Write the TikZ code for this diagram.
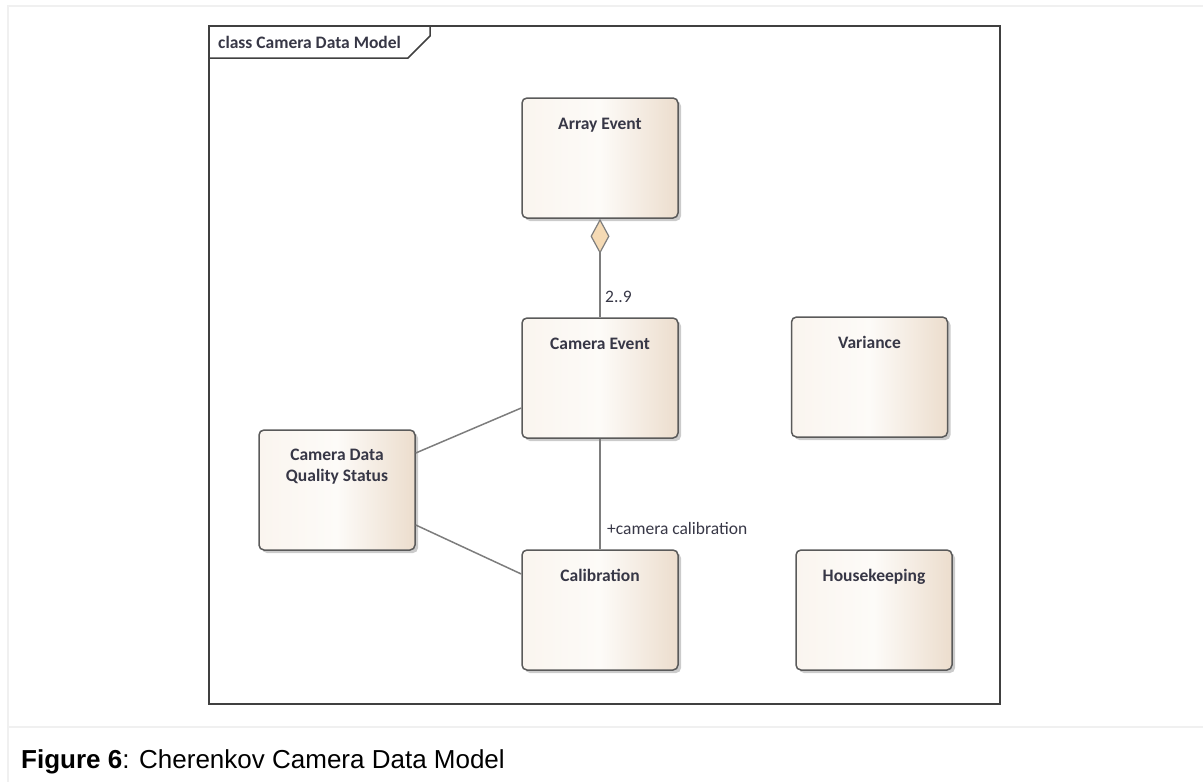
\documentclass[tikz,border=0pt]{standalone}
\usepackage{fontspec}
\setmainfont{Carlito}
\newfontfamily\capfont{Liberation Sans}
\usetikzlibrary{shadows,arrows.meta}
\definecolor{boxleft}{RGB}{250,245,239}
\definecolor{boxmid}{RGB}{253,251,248}
\definecolor{boxright}{RGB}{236,221,205}
\definecolor{boxline}{RGB}{90,90,90}
\definecolor{txt}{RGB}{55,55,70}
\definecolor{aggfill}{RGB}{245,218,180}
\definecolor{linegray}{RGB}{125,125,125}
\definecolor{pagegray}{RGB}{240,240,240}
\begin{document}
\begin{tikzpicture}[x=1pt,y=-1pt,
  cls/.style={draw=boxline, line width=1.5pt, rounded corners=5pt,
    left color=boxleft, right color=boxright, middle color=boxmid,
    minimum width=156pt, minimum height=120pt, inner sep=0pt,
    drop shadow={shadow xshift=3pt, shadow yshift=-3pt, fill=black!45, opacity=0.45}},
  title/.style={anchor=base, yshift=-32pt, text=txt, align=center,
    font=\fontsize{17.5}{21}\selectfont\bfseries},
  assoc/.style={draw=linegray, line width=1.5pt},
  role/.style={anchor=base west, text=txt, inner sep=0pt, font=\fontsize{17.5}{21}\selectfont}]
\useasboundingbox (0,0) rectangle (1203,782);
% page rules
\draw[pagegray, line width=2pt] (1203,6) -- (8,6) -- (8,782);
\draw[pagegray, line width=2pt] (8,727) -- (1203,727);
% frame
\draw[black!75, line width=1.5pt] (209,26) rectangle (1000,704);
\draw[black!75, line width=1.5pt] (209,58) -- (408,58) -- (430,36) -- (430,26);
\node[anchor=base west, inner sep=0pt, text=txt, font=\fontsize{17.5}{21}\selectfont\bfseries] (tab) at (218,48) {class Camera Data Model};
% classes
\node[cls, label={[title]north:Array Event}] (ae) at (600,158) {};
\node[cls, label={[title]north:Camera Event}] (ce) at (600,378) {};
\node[cls, label={[title]north:Variance}] (var) at (869.5,377) {};
\node[cls, label={[title, yshift=-20pt]north:{Camera Data\\Quality Status}}] (dq) at (337,490) {};
\node[cls, label={[title]north:Calibration}] (cal) at (600,610) {};
\node[cls, label={[title]north:Housekeeping}] (hk) at (874,610) {};
% connectors
\draw[assoc, {Diamond[length=35pt, width=19pt, fill=aggfill, line width=1.2pt]}-] (ae) -- (ce);
\node[role] (mult) at ([xshift=5pt, yshift=15pt]ce.north) {2..9};
\draw[assoc] (ce) -- (cal);
\node[role] (rcal) at ([xshift=7pt, yshift=15pt]cal.north) {+camera calibration};
\draw[assoc] ([yshift=37pt]dq.east) -- ([yshift=-30pt]ce.west);
\draw[assoc] ([yshift=-35pt]dq.east) -- ([yshift=36pt]cal.west);
% caption
\node[anchor=base west, inner sep=0pt, font=\capfont\fontsize{26}{30}\selectfont] (cap) at (21,768) {\textbf{Figure 6}: Cherenkov Camera Data Model};
\end{tikzpicture}
\end{document}
